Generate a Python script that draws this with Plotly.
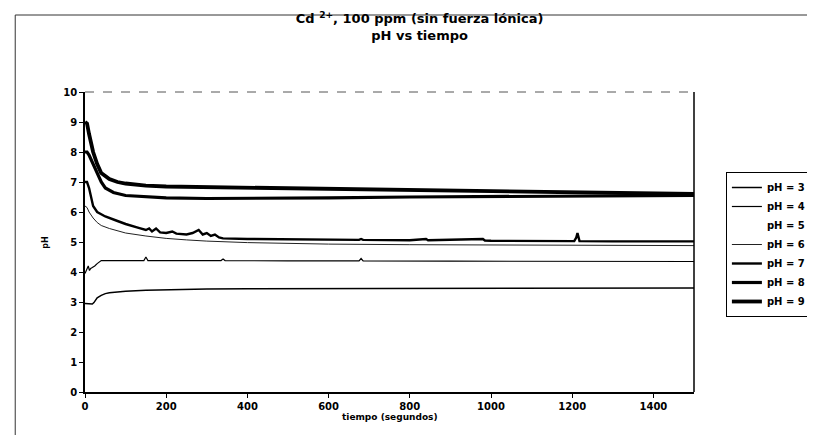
import plotly.graph_objects as go

# ---- data ----
t_ph3 = [0, 10, 18, 22, 26, 30, 40, 50, 60, 80, 100, 150, 200, 300, 400, 600, 800, 1000, 1200, 1500]
y_ph3 = [2.95, 2.95, 2.93, 2.98, 3.08, 3.14, 3.22, 3.28, 3.31, 3.34, 3.36, 3.39, 3.41, 3.43, 3.44, 3.45, 3.46, 3.47, 3.47, 3.47]

t_ph4 = [0, 4, 8, 11, 14, 18, 24, 30, 36, 40, 60, 100, 145, 150, 155, 200, 300, 335, 340, 345, 500, 675, 680, 685, 900, 1200, 1500]
y_ph4 = [3.95, 4.05, 4.2, 4.05, 4.12, 4.15, 4.2, 4.28, 4.35, 4.38, 4.38, 4.38, 4.38, 4.5, 4.38, 4.38, 4.38, 4.38, 4.43, 4.38, 4.37, 4.37, 4.45, 4.37, 4.36, 4.35, 4.35]

# pH = 5 is listed in the legend but no curve for it is visible in the picture
t_ph5 = [None]
y_ph5 = [None]

t_ph6 = [0, 5, 10, 20, 30, 40, 60, 80, 100, 150, 200, 250, 300, 400, 500, 600, 800, 1000, 1200, 1500]
y_ph6 = [6.2, 6.15, 6.0, 5.8, 5.65, 5.55, 5.45, 5.37, 5.3, 5.2, 5.12, 5.07, 5.03, 4.98, 4.95, 4.93, 4.91, 4.9, 4.89, 4.88]

t_ph7 = [0, 5, 10, 15, 20, 30, 40, 50, 80, 100, 130, 150, 158, 165, 175, 185, 200, 215, 225, 250, 265, 280,
         290, 300, 310, 320, 330, 340, 400, 500, 600, 675, 680, 685, 800, 840, 845, 930, 980, 985, 1000,
         1205, 1210, 1213, 1218, 1300, 1500]
y_ph7 = [7.0, 7.0, 6.8, 6.5, 6.2, 6.0, 5.92, 5.85, 5.7, 5.6, 5.48, 5.4, 5.45, 5.35, 5.45, 5.32, 5.3, 5.35, 5.28, 5.25, 5.3, 5.4,
         5.25, 5.3, 5.2, 5.25, 5.15, 5.12, 5.1, 5.09, 5.08, 5.07, 5.1, 5.07, 5.06, 5.1, 5.06, 5.08, 5.1, 5.05, 5.04,
         5.03, 5.15, 5.3, 5.03, 5.02, 5.02]

t_ph8 = [0, 5, 10, 20, 30, 40, 50, 70, 100, 150, 200, 300, 400, 600, 800, 1000, 1200, 1500]
y_ph8 = [8.0, 8.0, 7.9, 7.6, 7.3, 7.0, 6.8, 6.65, 6.55, 6.5, 6.47, 6.45, 6.45, 6.47, 6.5, 6.52, 6.54, 6.55]

t_ph9 = [0, 5, 10, 20, 30, 40, 60, 80, 100, 150, 200, 300, 400, 600, 800, 1000, 1200, 1500]
y_ph9 = [9.0, 8.95, 8.6, 8.0, 7.6, 7.3, 7.1, 7.0, 6.95, 6.88, 6.85, 6.83, 6.82, 6.78, 6.73, 6.7, 6.66, 6.6]

series_names = ["pH = 3", "pH = 4", "pH = 5", "pH = 6", "pH = 7", "pH = 8", "pH = 9"]
x_ticks = [0, 200, 400, 600, 800, 1000, 1200, 1400]
y_ticks = [0, 1, 2, 3, 4, 5, 6, 7, 8, 9, 10]

FONT = "DejaVu Sans"

# ---- figure ----
W, H = 815, 435
L, R, T, B = 77, 688, 84, 384  # plot area in pixels


def px_x(px):
    return (px - L) / (R - L)


def px_y(py):
    return (B - py) / (B - T)


series = [
    (t_ph3, y_ph3, "black", 1.5),
    (t_ph4, y_ph4, "black", 1.2),
    (t_ph5, y_ph5, "white", 0),
    (t_ph6, y_ph6, "#222222", 1.0),
    (t_ph7, y_ph7, "black", 2.4),
    (t_ph8, y_ph8, "black", 3.2),
    (t_ph9, y_ph9, "black", 3.8),
]

fig = go.Figure()
for (tx, ty, col, w), name in zip(series, series_names):
    fig.add_trace(go.Scatter(x=tx, y=ty, mode="lines", name=name,
                             line=dict(color=col, width=w)))

fig.update_layout(
    width=W, height=H,
    margin=dict(l=L, r=W - R, t=T, b=H - B),
    paper_bgcolor="white", plot_bgcolor="white",
    font=dict(family=FONT, color="black"),
    showlegend=True,
    legend=dict(
        x=px_x(720), y=px_y(164), xanchor="left", yanchor="top",
        bordercolor="black", borderwidth=1, bgcolor="white",
        font=dict(family=FONT, size=10, weight="bold"),
        tracegroupgap=0, itemwidth=30,
    ),
    title=dict(
        text="Cd <sup>2+</sup>, 100 ppm (sin fuerza lónica)<br>pH vs tiempo",
        x=0.505, xref="container", xanchor="center",
        y=1 - 15 / H, yref="container", yanchor="top",
        font=dict(family=FONT, size=13, weight="bold"),
    ),
)

fig.update_xaxes(
    range=[0, 1500], tickvals=x_ticks, ticks="outside", ticklen=4,
    tickcolor="black", showline=True, linecolor="black", linewidth=1.5,
    showgrid=False, zeroline=False,
    tickfont=dict(family=FONT, size=10, weight="bold"),
)
fig.update_yaxes(
    range=[0, 10], tickvals=y_ticks, ticks="outside", ticklen=4,
    tickcolor="black", showline=True, linecolor="black", linewidth=1.5,
    showgrid=False, zeroline=False,
    tickfont=dict(family=FONT, size=10, weight="bold"),
)

# plot-area border: right side solid, top side faint dashed
fig.add_shape(type="line", xref="paper", yref="paper", x0=1, x1=1, y0=0, y1=1,
              line=dict(color="black", width=1.5))
fig.add_shape(type="line", xref="paper", yref="paper", x0=0, x1=1, y0=1, y1=1,
              line=dict(color="#555555", width=1, dash="dash"))

# axis titles
fig.add_annotation(text="tiempo (segundos)", xref="paper", yref="paper",
                   x=0.5, y=px_y(416), showarrow=False,
                   font=dict(family=FONT, size=9, weight="bold"))
fig.add_annotation(text="pH", xref="paper", yref="paper",
                   x=px_x(30), y=px_y(235), showarrow=False, textangle=-90,
                   font=dict(family=FONT, size=8, weight="bold"))

# outer chart frame
fig.add_shape(type="rect", xref="paper", yref="paper",
              x0=px_x(7), y0=px_y(440), x1=px_x(820), y1=px_y(7),
              line=dict(color="#333333", width=1))

fig.write_html("out.html")
